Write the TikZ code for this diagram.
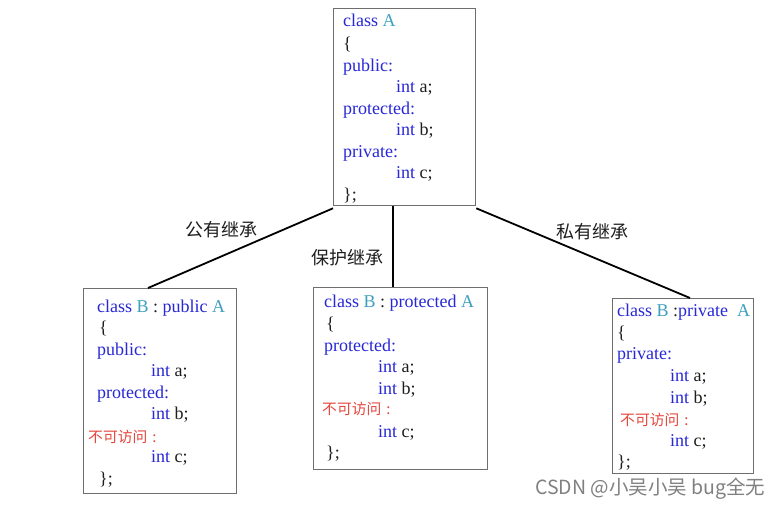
\documentclass[tikz,border=0pt]{standalone}
\usepackage{fontspec}
\setmainfont{Liberation Serif}
\newfontfamily\cjk{Noto Sans CJK SC}
\usetikzlibrary{calc}
\definecolor{kwblue}{RGB}{40,40,215}
\definecolor{tlcol}{RGB}{60,160,190}
\definecolor{redcol}{RGB}{230,70,60}
\definecolor{boxgray}{RGB}{110,110,110}
\definecolor{txt}{RGB}{30,30,30}
\newcommand\kwc[1]{\textcolor{kwblue}{#1}}
\newcommand\tlc[1]{\textcolor{tlcol}{#1}}
\newcommand\nofang{不可访问\hspace{5pt}:}
\begin{document}
\begin{tikzpicture}[x=1pt,y=-1pt,
  boxn/.style={draw=boxgray,line width=1.3pt,rectangle,anchor=north west,inner sep=0pt},
  code/.style={anchor=base west,inner sep=0pt,font=\fontsize{18}{20}\selectfont,text=txt},
  redl/.style={anchor=base west,inner sep=0pt,font=\cjk\fontsize{14.8}{16}\selectfont,text=redcol},
  lab/.style={inner sep=0pt,font=\cjk\fontsize{18}{20}\selectfont,text=txt},
  conn/.style={draw=black,line width=1.8pt}]
\useasboundingbox (0,0) rectangle (779,506);
\fill[white] (0,0) rectangle (779,506);
% boxes
\node[boxn,minimum width=142pt,minimum height=197pt] (A) at (333,8) {};
\node[boxn,minimum width=153pt,minimum height=205pt] (B1) at (83,288) {};
\node[boxn,minimum width=174pt,minimum height=182pt] (B2) at (313,287) {};
\node[boxn,minimum width=141pt,minimum height=175pt] (B3) at (612,298) {};
% connectors
\coordinate (cA1) at ($(A.south west)+(0,2)$);
\coordinate (cA2) at ($(A.south west)+(60,0)$);
\coordinate (cA3) at ($(A.south east)+(0,2)$);
\coordinate (cB1) at ($(B1.north west)+(65,0)$);
\coordinate (cB3) at ($(B3.north west)+(78,0)$);
\draw[conn] (cA1) -- (cB1);
\draw[conn] (cA2) -- (cA2 |- B2.north);
\draw[conn] (cA3) -- (cB3);
% labels
\node[lab] (l1) at (221,230) {公有继承};
\node[lab] (l2) at (347,258) {保护继承};
\node[lab] (l3) at (592,232) {私有继承};
% class A
\node[code] (a1) at (343,27) {\kwc{class} \tlc{A}};
\node[code] (a2) at (343,49) {\{};
\node[code] (a3) at (343,71) {\kwc{public:}};
\node[code] (a4) at (396,92) {\kwc{int} a;};
\node[code] (a5) at (343,114) {\kwc{protected:}};
\node[code] (a6) at (396,135) {\kwc{int} b;};
\node[code] (a7) at (343,157) {\kwc{private:}};
\node[code] (a8) at (396,178) {\kwc{int} c;};
\node[code] (a9) at (343,200) {\};};
% class B public
\node[code] (b1) at (97,312) {\kwc{class} \tlc{B} : \kwc{public} \tlc{A}};
\node[code] (b2) at (99,333) {\{};
\node[code] (b3) at (97,355) {\kwc{public:}};
\node[code] (b4) at (151,376) {\kwc{int} a;};
\node[code] (b5) at (97,398) {\kwc{protected:}};
\node[code] (b6) at (151,419) {\kwc{int} b;};
\node[redl] (b7) at (88,442) {\nofang};
\node[code] (b8) at (151,462) {\kwc{int} c;};
\node[code] (b9) at (99,484) {\};};
% class B protected
\node[code] (c1) at (324,307) {\kwc{class} \tlc{B} : \kwc{protected} \tlc{A}};
\node[code] (c2) at (326,329) {\{};
\node[code] (c3) at (324,351) {\kwc{protected:}};
\node[code] (c4) at (378,372) {\kwc{int} a;};
\node[code] (c5) at (378,394) {\kwc{int} b;};
\node[redl] (c6) at (322,414) {\nofang};
\node[code] (c7) at (378,437) {\kwc{int} c;};
\node[code] (c8) at (326,458) {\};};
% class B private
\node[code] (d1) at (617,316) {\kwc{class} \tlc{B} :\kwc{private}\ \ \tlc{A}};
\node[code] (d2) at (617,338) {\{};
\node[code] (d3) at (617,359) {\kwc{private:}};
\node[code] (d4) at (670,381) {\kwc{int} a;};
\node[code] (d5) at (670,403) {\kwc{int} b;};
\node[redl] (d6) at (620,425) {\nofang};
\node[code] (d7) at (670,446) {\kwc{int} c;};
\node[code] (d8) at (617,467) {\};};
% watermark
\node[anchor=base west,inner sep=0pt,font=\cjk\fontsize{19.5}{21}\selectfont,text=black!50] (wm) at (535,494) {CSDN @小吴小吴 bug全无};
\end{tikzpicture}
\end{document}
